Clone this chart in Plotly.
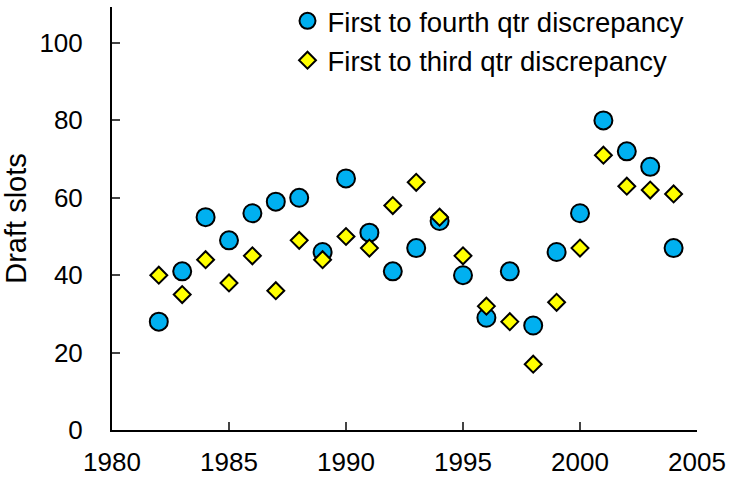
import plotly.graph_objects as go

years = list(range(1982, 2005))
fourth_qtr = [28, 41, 55, 49, 56, 59, 60, 46, 65, 51, 41, 47, 54, 40, 29, 41, 27, 46, 56, 80, 72, 68, 47]
third_qtr = [40, 35, 44, 38, 45, 36, 49, 44, 50, 47, 58, 64, 55, 45, 32, 28, 17, 33, 47, 71, 63, 62, 61]
x_ticks = [1980, 1985, 1990, 1995, 2000, 2005]
y_ticks = [0, 20, 40, 60, 80, 100]

FONT = "Liberation Sans, Arial, sans-serif"

fig = go.Figure()
fig.add_trace(go.Scatter(
    x=years, y=fourth_qtr, mode="markers", name="First to fourth qtr discrepancy",
    marker=dict(symbol="circle", size=18, color="#00B0F0", line=dict(color="black", width=2)),
    legend="legend", cliponaxis=False, showlegend=True,
))
fig.add_trace(go.Scatter(
    x=years, y=third_qtr, mode="markers", name="First to third qtr discrepancy",
    marker=dict(symbol="diamond", size=13, color="#FFFF00", line=dict(color="black", width=2)),
    legend="legend2", cliponaxis=False, showlegend=True,
))

fig.update_layout(
    width=734, height=480,
    showlegend=True,
    margin=dict(l=112, r=37, t=7, b=50, autoexpand=False),
    plot_bgcolor="white", paper_bgcolor="white",
    font=dict(family=FONT, color="black", size=26),
    legend=dict(x=0.300, y=0.967, xanchor="left", yanchor="middle", visible=True,
                font=dict(size=27.5, family=FONT), bgcolor="rgba(0,0,0,0)",
                borderwidth=0, tracegroupgap=0),
    legend2=dict(x=0.300, y=0.874, xanchor="left", yanchor="middle", visible=True,
                 font=dict(size=27.5, family=FONT), bgcolor="rgba(0,0,0,0)",
                 borderwidth=0, tracegroupgap=0),
    xaxis=dict(range=[1980, 2005], tickvals=x_ticks, ticks="inside", ticklen=8, tickwidth=2,
               showline=True, linewidth=2, linecolor="black", showgrid=False, zeroline=False,
               automargin=False,
               tickfont=dict(size=26, family=FONT), ticklabelstandoff=8),
    yaxis=dict(range=[0, 109.3], tickvals=y_ticks, ticks="inside", ticklen=8, tickwidth=2,
               showline=True, linewidth=2, linecolor="black", showgrid=False, zeroline=False,
               automargin=False,
               tickfont=dict(size=26, family=FONT), ticklabelstandoff=22,
               title=dict(text="Draft slots", font=dict(size=29, family=FONT), standoff=10)),
)

fig.write_html("out.html", config={"displayModeBar": False, "staticPlot": True},
               post_script="document.body.style.margin='0';document.body.style.overflow='hidden';")
